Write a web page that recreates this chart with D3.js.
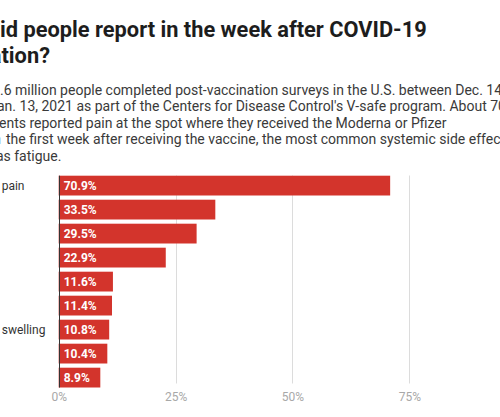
<!DOCTYPE html>
<html>
<head>
<meta charset="utf-8">
<script src="https://cdn.jsdelivr.net/npm/d3@7"></script>
<style>
  html, body { margin: 0; padding: 0; background: #fff; overflow: hidden; }
  svg { display: block; font-family: Roboto, "Noto Sans", sans-serif; }
</style>
</head>
<body>
<svg id="chart" width="500" height="417"></svg>
<script>
// ---- data ----
const categories = [
  "Injection site pain", "Fatigue", "Headache", "Myalgia", "Chills",
  "Fever", "Injection site swelling", "Joint pain", "Nausea"
];
const values = [70.9, 33.5, 29.5, 22.9, 11.6, 11.4, 10.8, 10.4, 8.9];
const tickValues = [0, 25, 50, 75, 100];
const tickLabels = ["0%", "25%", "50%", "75%", "100%"];

// title / description: [hidden prefix, visible part]
const titleLines = [
  ["What d", "id people report in the week after COVID-19"],
  ["vaccin", "ation?"]
];
const descLines = [
  ["Nearly 3", ".6 million people completed post-vaccination surveys in the U.S. between Dec. 14"],
  ["2020 to J", "an. 13, 2021 as part of the Centers for Disease Control's V-safe program. About 70%"],
  ["of recipi", "ents reported pain at the spot where they received the Moderna or Pfizer"],
  ["shot. In", "the first week after receiving the vaccine, the most common systemic side effect"],
  ["wa", "s fatigue."]
];

const svg = d3.select("#chart");

// ---- title ----
const titleSize = 21.8;
const titleY = [37, 63];
titleLines.forEach((ln, i) => {
  const vis = svg.append("text").attr("y", titleY[i])
    .attr("font-size", titleSize).attr("font-weight", 700)
    .attr("fill", "#1d1d1d").text(ln[1]);
  // line 1 starts at the left edge; line 2 ends where the reference ends
  const xPos = i === 0 ? 0 : 50 - vis.node().getComputedTextLength();
  vis.attr("x", xPos);
  svg.append("text").attr("x", xPos).attr("y", titleY[i])
    .attr("text-anchor", "end").attr("font-size", titleSize).attr("font-weight", 700)
    .attr("fill", "#1d1d1d").text(ln[0]);
});

// ---- description ----
const descX = [0, -3, -1, 6, 3.5];
const preX = [0, -3, -1, 1, 3.5];
descLines.forEach((ln, i) => {
  const y = 94.5 + i * 16.6;
  svg.append("text").attr("x", preX[i]).attr("y", y).attr("text-anchor", "end")
    .attr("font-size", 14).attr("fill", "#3a3a3a").text(ln[0]);
  svg.append("text").attr("x", descX[i]).attr("y", y)
    .attr("font-size", 14).attr("fill", "#3a3a3a").text(ln[1]);
});

// ---- chart ----
const x = d3.scaleLinear().domain([0, 100]).range([58.7, 526.2]);
const y = d3.scaleBand().domain(categories).range([175.7, 387.5])
  .paddingInner(0.175).paddingOuter(0);

const gridTop = 175.5, gridBottom = 383.5;

// gridlines
svg.append("g").selectAll("line").data(tickValues.filter(d => d > 0)).join("line")
  .attr("x1", d => Math.round(x(d)) + 0.5).attr("x2", d => Math.round(x(d)) + 0.5)
  .attr("y1", gridTop).attr("y2", gridBottom)
  .attr("stroke", "#dcdcdc").attr("stroke-width", 1);

// axis tick labels
const axis = d3.axisBottom(x).tickValues(tickValues)
  .tickFormat((d, i) => tickLabels[i]).tickSize(0).tickPadding(0);
const gAxis = svg.append("g").attr("transform", "translate(0,394)").call(axis);
gAxis.select(".domain").remove();
gAxis.selectAll("text").attr("font-family", "Roboto, sans-serif")
  .attr("font-size", 12).attr("fill", "#a8a8a8").attr("dy", "0.6em");

// bars
svg.append("g").selectAll("rect").data(values).join("rect")
  .attr("x", x(0)).attr("y", (d, i) => y(categories[i]))
  .attr("width", d => x(d) - x(0)).attr("height", y.bandwidth())
  .attr("fill", "#d3342c");

// value labels
svg.append("g").selectAll("text").data(values).join("text")
  .attr("x", x(0) + 5).attr("y", (d, i) => y(categories[i]) + y.bandwidth() / 2)
  .attr("dy", "0.35em").attr("font-size", 12).attr("font-weight", 700)
  .attr("fill", "#fff").text(d => d.toFixed(1) + "%");

// zero axis line
svg.append("line").attr("x1", Math.round(x(0)) + 0.5).attr("x2", Math.round(x(0)) + 0.5)
  .attr("y1", 175.7).attr("y2", 387.5).attr("stroke", "#333").attr("stroke-width", 1);

// category labels (left aligned, starting off-canvas)
const measure = svg.append("text").attr("font-size", 12).text(categories[0]);
const labelLeft = 24.5 - measure.node().getComputedTextLength();
measure.remove();
svg.append("g").selectAll("text").data(categories).join("text")
  .attr("x", labelLeft).attr("y", d => y(d) + y.bandwidth() / 2)
  .attr("dy", "0.35em").attr("font-size", 12).attr("fill", "#333").text(d => d);
</script>
</body>
</html>
